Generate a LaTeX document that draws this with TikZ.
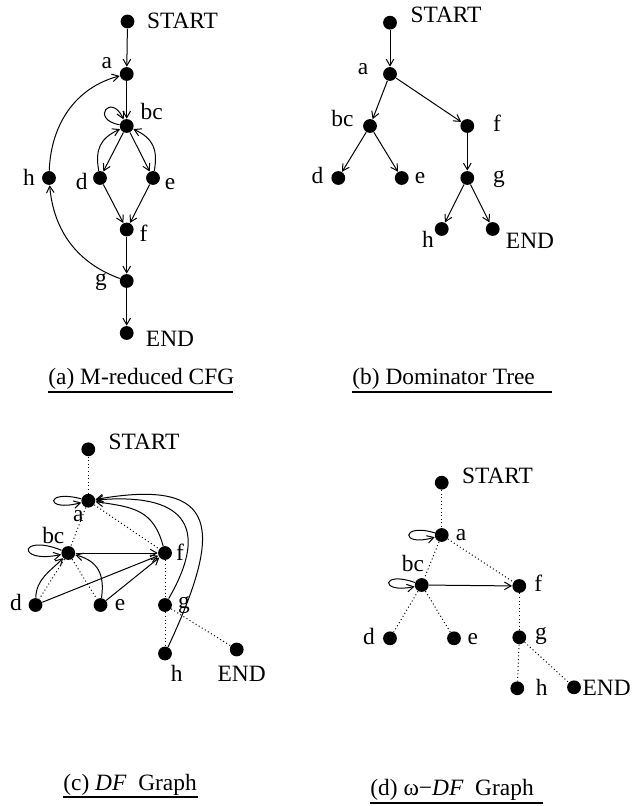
\documentclass[tikz,border=0pt]{standalone}
\usepackage{fontspec}
\setmainfont{Liberation Serif}
\usetikzlibrary{arrows.meta}

\begin{document}
\begin{tikzpicture}[x=0.5pt, y=-0.5pt,
  vert/.style={circle, fill=black, inner sep=0pt, minimum size=6.9pt},
  etiq/.style={anchor=base, inner sep=0pt, font=\fontsize{11.7}{13}\selectfont},
  leyenda/.style={anchor=base west, inner sep=0pt, font=\fontsize{11.7}{13}\selectfont},
  flujo/.style={-{Straight Barb[length=3.3pt, width=3.8pt]}, line width=0.5pt},
  arbol/.style={line width=0.5pt, dash pattern=on 0.5pt off 1.3pt},
  raya/.style={line width=0.6pt}]
\useasboundingbox (0,0) rectangle (631,806);

% (a) M-reduced CFG
\node[vert] (aS) at (127.5,21.5) {};  \node[etiq] (aSt) at (182.5,28.3) {START};
\node[vert] (aa) at (126.7,74) {};    \node[etiq] (aat) at (106.7,68.5) {a};
\node[vert] (abc) at (126.7,126) {};  \node[etiq] (abct) at (151.7,120) {bc};
\node[vert] (ad) at (100,178) {};     \node[etiq] (adt) at (81.7,190) {d};
\node[vert] (ae) at (153,178) {};     \node[etiq] (aet) at (170,190) {e};
\node[vert] (ah) at (49,178) {};      \node[etiq] (aht) at (29,186) {h};
\node[vert] (af) at (126.7,229.5) {}; \node[etiq] (aft) at (143.5,242) {f};
\node[vert] (ag) at (126.7,281) {};   \node[etiq] (agt) at (101,286) {g};
\node[vert] (aE) at (126.7,333) {};   \node[etiq] (aEt) at (170,346.5) {END};
\draw[flujo] (aS) -- (aa);
\draw[flujo] (aa) -- (abc);
\draw[flujo] (abc) -- (ad);
\draw[flujo] (abc) -- (ae);
\draw[flujo] (ad) -- (af);
\draw[flujo] (ae) -- (af);
\draw[flujo] (af) -- (ag);
\draw[flujo] (ag) -- (aE);
\draw[flujo] (ag) to[out=160, in=-85] (ah);
\draw[flujo] (ah) to[out=88, in=195] (aa);
\draw[flujo] (ad) to[out=100, in=205, looseness=1.2] (abc);
\draw[flujo] (ae) to[out=80, in=-25, looseness=1.2] (abc);
\draw[flujo] (abc) to[out=170, in=115, min distance=15pt] (abc);
\node[leyenda] (capa) at (48,384) {(a) M-reduced CFG};
\draw[raya] (48,392) -- (233,392);

% (b) Dominator Tree
\node[vert] (bS) at (390,22.7) {};    \node[etiq] (bSt) at (446,23) {START};
\node[vert] (ba) at (390,74) {};      \node[etiq] (bat) at (363,75) {a};
\node[vert] (bbc) at (370,126) {};    \node[etiq] (bbct) at (342.5,126.5) {bc};
\node[vert] (bf) at (467.3,126) {};   \node[etiq] (bft) at (497,131.5) {f};
\node[vert] (bd) at (338.3,178) {};   \node[etiq] (bdt) at (317.5,184) {d};
\node[vert] (be) at (401.7,178) {};   \node[etiq] (bet) at (420,184) {e};
\node[vert] (bg) at (467.3,178) {};   \node[etiq] (bgt) at (499,183) {g};
\node[vert] (bh) at (441.7,229) {};   \node[etiq] (bht) at (428,248) {h};
\node[vert] (bE) at (492.7,229) {};   \node[etiq] (bEt) at (530,249) {END};
\draw[flujo] (bS) -- (ba);
\draw[flujo] (ba) -- (bbc);
\draw[flujo] (ba) -- (bf);
\draw[flujo] (bbc) -- (bd);
\draw[flujo] (bbc) -- (be);
\draw[flujo] (bf) -- (bg);
\draw[flujo] (bg) -- (bh);
\draw[flujo] (bg) -- (bE);
\node[leyenda] (capb) at (352,384) {(b) Dominator Tree};
\draw[raya] (352,392) -- (552,392);

% (c) DF Graph
\node[vert] (cS) at (88.3,449.3) {};  \node[etiq] (cSt) at (144,449) {START};
\node[vert] (ca) at (88.3,500.7) {};  \node[etiq] (cat) at (78.3,521.7) {a};
\node[vert] (cbc) at (68.3,553) {};   \node[etiq] (cbct) at (53.3,543.3) {bc};
\node[vert] (cf) at (165,553) {};     \node[etiq] (cft) at (180,560) {f};
\node[vert] (cd) at (35.5,605) {};    \node[etiq] (cdt) at (16,610) {d};
\node[vert] (ce) at (100.5,605) {};   \node[etiq] (cet) at (120,610) {e};
\node[vert] (cg) at (165,605) {};     \node[etiq] (cgt) at (184,608) {g};
\node[vert] (ch) at (165,653.5) {};   \node[etiq] (cht) at (176.7,681) {h};
\node[vert] (cE) at (236.7,649.5) {}; \node[etiq] (cEt) at (241.7,681) {END};
\draw[arbol] (cS) -- (ca);
\draw[arbol] (ca) -- (cbc);
\draw[arbol] (ca) -- (cf);
\draw[arbol] (cbc) -- (cd);
\draw[arbol] (cbc) -- (ce);
\draw[arbol] (cf) -- (cg);
\draw[arbol] (cg) -- (ch);
\draw[arbol] (cg) -- (cE);
\draw[flujo] (ca) to[out=165, in=195, min distance=19pt] (ca);
\draw[flujo] (cbc) to[out=158, in=192, min distance=23pt] (cbc);
\draw[flujo] (cbc) -- (cf);
\draw[flujo] (cd) -- (cf);
\draw[flujo] (ce) -- (cf);
\draw[flujo] (cd) to[out=88, in=225] (cbc);
\draw[flujo] (ce) to[out=82, in=-15, looseness=1.2] (cbc);
\draw[flujo] (cf) to[out=105, in=-8, looseness=1.2] (ca);
\draw[flujo] (cg) to[out=60, in=5, looseness=1.8] (ca);
\draw[flujo] (ch) to[out=65, in=10, looseness=2.0] (ca);
\node[leyenda] (capc) at (63,790) {(c) \textit{DF}\ \ Graph};
\draw[raya] (63,797) -- (198,797);

% (d) omega-DF Graph
\node[vert] (dS) at (441.7,482.7) {}; \node[etiq] (dSt) at (497.5,483) {START};
\node[vert] (da) at (441.7,535) {};   \node[etiq] (dat) at (461,540) {a};
\node[vert] (dbc) at (421.7,585) {};  \node[etiq] (dbct) at (413,571.7) {bc};
\node[vert] (df) at (519.3,586) {};   \node[etiq] (dft) at (538.3,591.7) {f};
\node[vert] (dd) at (390,638.3) {};   \node[etiq] (ddt) at (369,644.3) {d};
\node[vert] (de) at (454,638.3) {};   \node[etiq] (det) at (472.7,644) {e};
\node[vert] (dg) at (519.3,637.3) {}; \node[etiq] (dgt) at (541,639.3) {g};
\node[vert] (dh) at (517.3,688.3) {}; \node[etiq] (dht) at (541.7,695) {h};
\node[vert] (dE) at (574,687.3) {};   \node[etiq] (dEt) at (606.7,695) {END};
\draw[arbol] (dS) -- (da);
\draw[arbol] (da) -- (dbc);
\draw[arbol] (da) -- (df);
\draw[arbol] (dbc) -- (dd);
\draw[arbol] (dbc) -- (de);
\draw[arbol] (df) -- (dg);
\draw[arbol] (dg) -- (dh);
\draw[arbol] (dg) -- (dE);
\draw[flujo] (da) to[out=163, in=197, min distance=18pt] (da);
\draw[flujo] (dbc) to[out=160, in=192, min distance=18pt] (dbc);
\draw[flujo] (dbc) -- (df);
\node[leyenda] (capd) at (370,795) {(d) ω−\textit{DF}\ \ Graph};
\draw[raya] (370,803) -- (543,803);
\end{tikzpicture}
\end{document}
